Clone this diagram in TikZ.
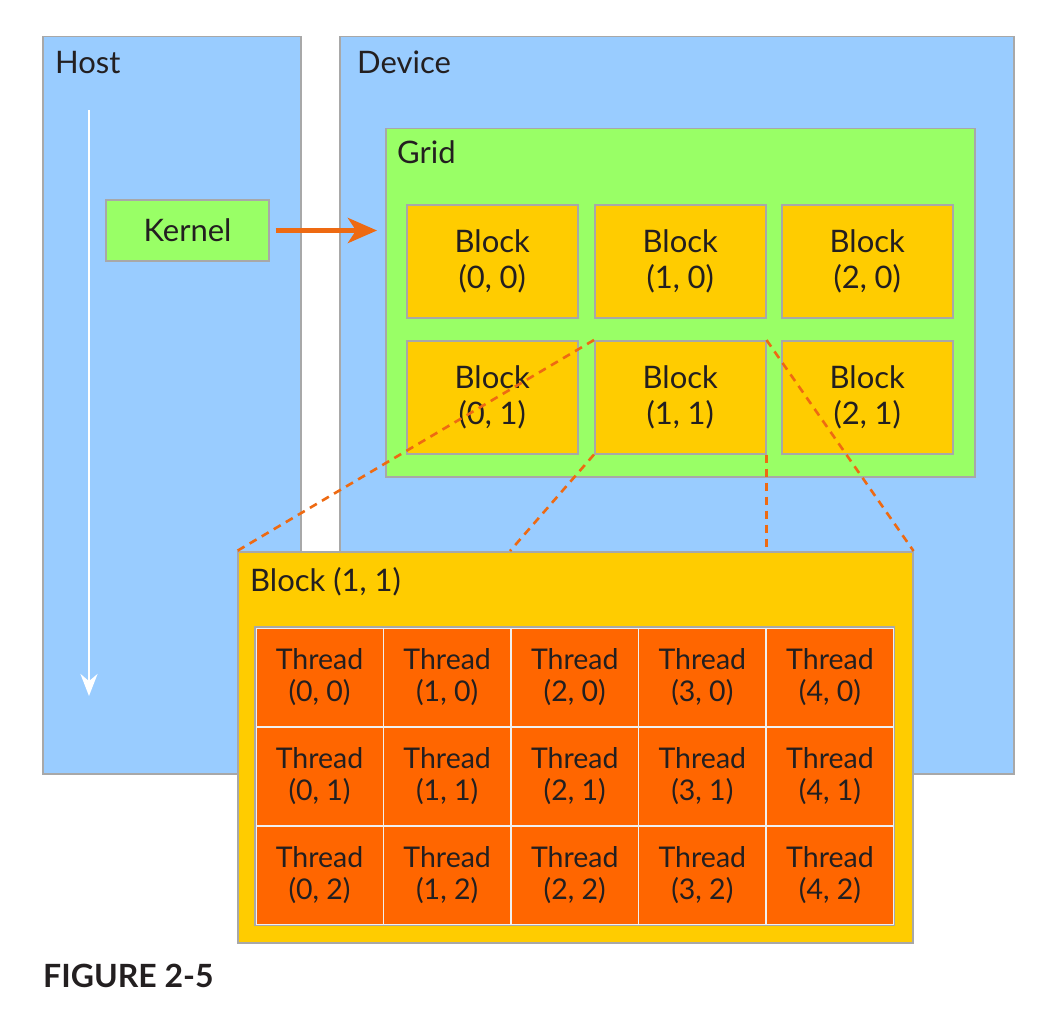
\documentclass[tikz,border=0pt]{standalone}
\usepackage{fontspec}
\setmainfont{Lato}
\usetikzlibrary{arrows.meta}
\definecolor{hostblue}{HTML}{99CCFF}
\definecolor{gridgreen}{HTML}{99FF66}
\definecolor{blockyellow}{HTML}{FFCC00}
\definecolor{threadorange}{HTML}{FF6600}
\definecolor{linkorange}{HTML}{EE6A12}
\definecolor{bordergray}{HTML}{A8A8A8}
\definecolor{txt}{HTML}{231F20}
\tikzset{
  panel/.style={draw=bordergray, line width=1.5pt, anchor=north west, inner sep=0pt},
  hostbox/.style={panel, fill=hostblue},
  gridbox/.style={panel, fill=gridgreen},
  blockbox/.style={panel, fill=blockyellow, minimum width=171pt, minimum height=113pt,
    align=center, text=txt, font=\fontsize{31}{36}\selectfont},
  threadbox/.style={anchor=north west, fill=threadorange, draw=white!88!gray, line width=1.5pt,
    minimum width=127.6pt, minimum height=99pt, align=center, text=txt,
    font=\fontsize{28.5}{32}\selectfont, inner sep=0pt},
  title/.style={anchor=base west, text=txt, font=\fontsize{31}{34}\selectfont, inner sep=0pt},
  link/.style={draw=linkorange, line width=2.6pt, dash pattern=on 8pt off 6pt},
}
\begin{document}
\begin{tikzpicture}[x=1pt,y=-1pt]
\useasboundingbox (0,0) rectangle (1038,1011);
% host and device
\node[hostbox, minimum width=258pt, minimum height=737pt] (host) at (42,36) {};
\node[hostbox, minimum width=674pt, minimum height=737pt] (device) at (339,36) {};
\node[title] (hostlbl) at (55,74) {Host};
\node[title] (devlbl) at (357,74) {Device};
% host flow arrow
\coordinate (flowtop) at (89,110);
\coordinate (flowend) at (89,696);
\draw[white, line width=2.5pt, -{Stealth[length=22pt,width=17pt]}] (flowtop) -- (flowend);
% kernel
\node[panel, fill=gridgreen, minimum width=163pt, minimum height=61pt, anchor=center,
  text=txt, font=\fontsize{31}{34}\selectfont] (kernel) at (187.5,230.5) {Kernel};
% grid
\node[gridbox, minimum width=589pt, minimum height=348pt] (grid) at (385,128) {};
\node[title] (gridlbl) at (397,164) {Grid};
\draw[linkorange, line width=5pt, -{Stealth[length=29pt,width=25pt,inset=8pt]}, shorten <=6pt, shorten >=8pt]
  (kernel.east) -- (kernel.east -| grid.west);
% blocks
\node[blockbox] (b00) at (406,204) {Block\\(0, 0)};
\node[blockbox] (b10) at (594,204) {Block\\(1, 0)};
\node[blockbox] (b20) at (781,204) {Block\\(2, 0)};
\node[blockbox] (b01) at (406,340) {Block\\(0, 1)};
\node[blockbox] (b11) at (594,340) {Block\\(1, 1)};
\node[blockbox] (b21) at (781,340) {Block\\(2, 1)};
% zoomed block
\node[panel, fill=blockyellow, minimum width=675pt, minimum height=391pt] (big) at (237,551) {};
\node[title] (biglbl) at (250,591) {Block (1, 1)};
% dashed links
\draw[link] (b11.north west) -- (big.north west);
\draw[link] (b11.south west) -- (big.north west -| 510,0);
\draw[link] (b11.south east) -- (big.north west -| b11.south east);
\draw[link] (b11.north east) -- (big.north east);
% threads
\foreach \c in {0,...,4}{
  \foreach \r in {0,1,2}{
    \node[threadbox] (t\c\r) at ({255+127.6*\c},{627+99*\r}) {Thread\\(\c, \r)};
  }
}
\draw[bordergray, line width=1.5pt] (t00.north west) rectangle (t42.south east);
% caption
\node[anchor=base west, inner sep=0pt, text=txt, font=\fontsize{32}{36}\selectfont\bfseries] (cap) at (43,987) {FIGURE 2-5};
\end{tikzpicture}
\end{document}
